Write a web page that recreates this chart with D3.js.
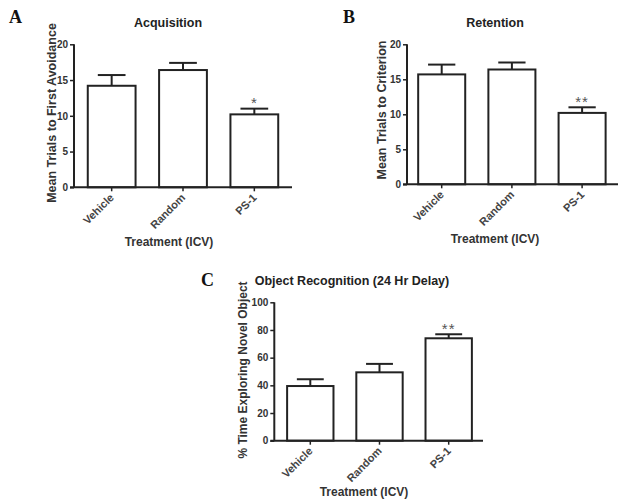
<!DOCTYPE html>
<html>
<head>
<meta charset="utf-8">
<script src="https://cdn.jsdelivr.net/npm/d3@7"></script>
<style>
  body { margin: 0; background: #fff; }
  text { font-family: "Liberation Sans", Arial, sans-serif; font-weight: bold; }
</style>
</head>
<body>
<svg id="fig" width="624" height="504"></svg>
<script>
// data
const categories = ["Vehicle", "Random", "PS-1"];
const acqMean = [14.2, 16.4, 10.2];
const acqErr  = [1.5, 1.0, 0.8];
const retMean = [15.7, 16.4, 10.2];
const retErr  = [1.4, 1.0, 0.8];
const objMean = [39.5, 49.4, 74.0];
const objErr  = [4.9, 6.1, 2.9];
const acqStars = ["", "", "*"];
const retStars = ["", "", "**"];
const objStars = ["", "", "**"];

const svg = d3.select("#fig");
const ink = "#222";

// layout for each panel (pixel geometry only)
const panels = [
  { letter: "A", lx: 9, ly: 23, title: "Acquisition", ylabel: "Mean Trials to First Avoidance", ylSize: 12.5,
    mean: acqMean, err: acqErr, stars: acqStars, ymax: 20, tickStep: 5,
    x0: 74, x1: 292, bx0: 76, bx1: 290, yTop: 44.3, yBot: 187.3, tx: 168, ty: 27, ylx: 56, lyc: 113, xlx: 169, xly: 246 },
  { letter: "B", lx: 343, ly: 23, title: "Retention", ylabel: "Mean Trials to Criterion", ylSize: 12.5,
    mean: retMean, err: retErr, stars: retStars, ymax: 20, tickStep: 5,
    x0: 407, x1: 618, bx0: 406.6, bx1: 617.2, yTop: 44.3, yBot: 184.3, tx: 495, ty: 27, ylx: 386, lyc: 110, xlx: 495, xly: 243 },
  { letter: "C", lx: 201, ly: 286, title: "Object Recognition (24 Hr Delay)", ylabel: "% Time Exploring Novel Object", ylSize: 12,
    mean: objMean, err: objErr, stars: objStars, ymax: 100, tickStep: 20,
    x0: 274.3, x1: 483, bx0: 275.7, bx1: 483.3, yTop: 302.3, yBot: 440.7, tx: 352, ty: 285, ylx: 247, lyc: 370, xlx: 364, xly: 496 }
];

panels.forEach(p => {
  const g = svg.append("g");
  const x = d3.scaleBand().domain(categories).range([p.bx0, p.bx1]).paddingInner(0.33).paddingOuter(0.165);
  const y = d3.scaleLinear().domain([0, p.ymax]).range([p.yBot, p.yTop]);

  // panel letter
  g.append("text").attr("x", p.lx).attr("y", p.ly)
    .style("font-family", "'Liberation Serif', 'Times New Roman', serif")
    .style("font-size", "18px").attr("fill", "#111").text(p.letter);

  // title
  g.append("text").attr("x", p.tx).attr("y", p.ty).attr("text-anchor", "middle")
    .style("font-size", "12.5px").attr("fill", "#222").text(p.title);

  // bars
  g.selectAll("rect.bar").data(categories).join("rect")
    .attr("class", "bar")
    .attr("x", d => x(d))
    .attr("y", (d, i) => y(p.mean[i]))
    .attr("width", x.bandwidth())
    .attr("height", (d, i) => y(0) - y(p.mean[i]))
    .attr("fill", "#fff").attr("stroke", ink).attr("stroke-width", 2);

  // error bars (upper only)
  const capW = x.bandwidth() * 0.58;
  categories.forEach((c, i) => {
    const cx = x(c) + x.bandwidth() / 2;
    const top = y(p.mean[i] + p.err[i]);
    g.append("line").attr("x1", cx).attr("x2", cx).attr("y1", y(p.mean[i])).attr("y2", top)
      .attr("stroke", ink).attr("stroke-width", 2);
    g.append("line").attr("x1", cx - capW / 2).attr("x2", cx + capW / 2).attr("y1", top).attr("y2", top)
      .attr("stroke", ink).attr("stroke-width", 2);
    if (p.stars[i]) {
      g.append("text").attr("x", cx).attr("y", top - 0.5).attr("text-anchor", "middle")
        .style("font-size", "15px").style("font-weight", "normal").attr("fill", "#555")
        .attr("letter-spacing", "1px")
        .text(p.stars[i]);
    }
  });

  // y axis
  const yAxis = d3.axisLeft(y).tickValues(d3.range(0, p.ymax + 0.01, p.tickStep)).tickSize(4).tickPadding(2);
  const ya = g.append("g").attr("transform", `translate(${p.x0},0)`).call(yAxis);
  ya.select(".domain").attr("d", `M0,${p.yTop}V${p.yBot}`).attr("stroke", ink).attr("stroke-width", 2);
  ya.selectAll(".tick line").attr("stroke", ink).attr("stroke-width", 1.5);
  ya.selectAll(".tick text").style("font-size", "10px").attr("fill", "#333")
    .style("font-family", "'Liberation Sans', Arial, sans-serif");

  // x axis
  const xAxis = d3.axisBottom(x).tickSize(4).tickSizeOuter(0).tickFormat("");
  const xa = g.append("g").attr("transform", `translate(0,${p.yBot})`).call(xAxis);
  xa.select(".domain").attr("d", `M${p.x0 - 4},0H${p.x1}`).attr("stroke", ink).attr("stroke-width", 2);
  xa.selectAll(".tick line").attr("stroke", ink).attr("stroke-width", 1.5);

  // rotated category labels
  categories.forEach(c => {
    const cx = x(c) + x.bandwidth() / 2 + 3;
    g.append("text")
      .attr("transform", `translate(${cx},${p.yBot + 11}) rotate(-45)`)
      .attr("text-anchor", "end")
      .style("font-size", "11px").attr("fill", "#444").text(c);
  });

  // axis titles
  g.append("text").attr("transform", `translate(${p.ylx},${p.lyc}) rotate(-90)`)
    .attr("text-anchor", "middle").style("font-size", p.ylSize + "px").attr("fill", "#333").text(p.ylabel);
  g.append("text").attr("x", p.xlx).attr("y", p.xly).attr("text-anchor", "middle")
    .style("font-size", "12px").attr("fill", "#333").text("Treatment (ICV)");
});
</script>
</body>
</html>
